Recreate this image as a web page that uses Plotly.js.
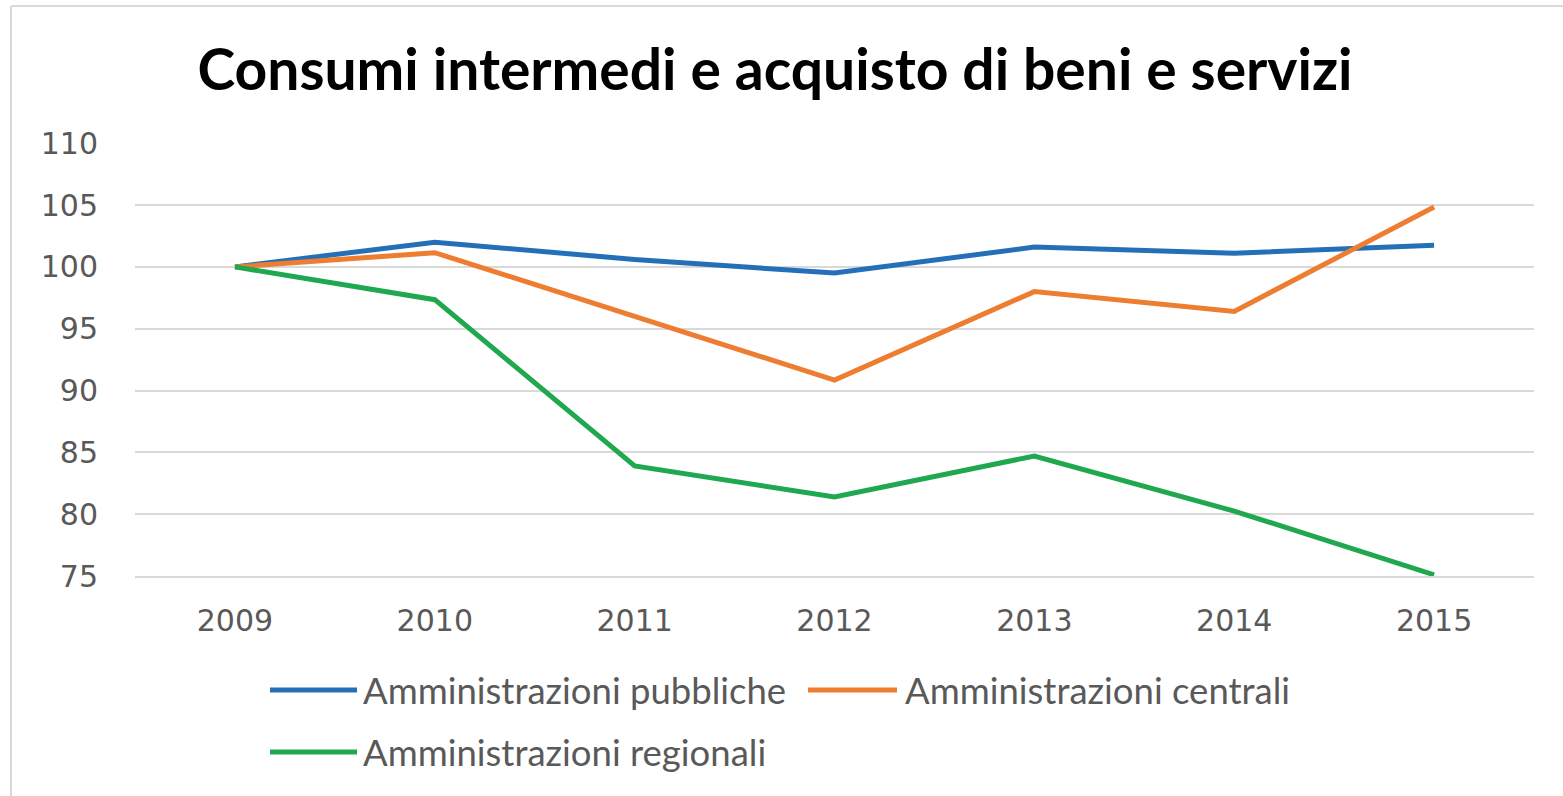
<!DOCTYPE html>
<html>
<head>
<meta charset="utf-8">
<script src="https://cdn.plot.ly/plotly-3.0.1.min.js"></script>
<style>
  html, body { margin: 0; padding: 0; background: #ffffff; }
  #chart { width: 1563px; height: 796px; }
</style>
</head>
<body>
<div id="chart"></div>
<script>
// ---- Data ----
const years = ['2009', '2010', '2011', '2012', '2013', '2014', '2015'];
const seriesNames = ['Amministrazioni pubbliche', 'Amministrazioni centrali', 'Amministrazioni regionali'];
const pubbliche = [100, 102.0, 100.6, 99.5, 101.6, 101.1, 101.75];
const centrali  = [100, 101.15, 96.0, 90.85, 98.0, 96.4, 104.85];
const regionali = [100, 97.35, 83.9, 81.4, 84.7, 80.25, 75.1];
const yTicks = [75, 80, 85, 90, 95, 100, 105, 110];
const chartTitle = 'Consumi intermedi e acquisto di beni e servizi';

// ---- Styles ----
const colors = ['#2470B8', '#ED7D31', '#1FA84F'];
const seriesValues = [pubbliche, centrali, regionali];
const W = 1563, H = 796;
const M = { l: 135, r: 29, t: 143, b: 220 };
const plotW = W - M.l - M.r, plotH = H - M.t - M.b;
const px2x = p => (p - M.l) / plotW;
const px2y = p => (H - M.b - p) / plotH;

const traces = seriesValues.map((vals, i) => ({
  type: 'scatter',
  mode: 'lines',
  x: years,
  y: vals,
  name: seriesNames[i],
  line: { color: colors[i], width: 5 },
  showlegend: false,
  hoverinfo: 'x+y+name'
}));

// custom legend (Excel style, long line samples)
const legendPos = [
  { lx0: 270, lx1: 357, tx: 361, ty: 690 },
  { lx0: 808, lx1: 897, tx: 903, ty: 690 },
  { lx0: 270, lx1: 357, tx: 361, ty: 752 }
];
const shapes = [];
const annotations = [];
seriesNames.forEach((nm, i) => {
  const p = legendPos[i];
  shapes.push({
    type: 'line', xref: 'paper', yref: 'paper',
    x0: px2x(p.lx0), x1: px2x(p.lx1), y0: px2y(p.ty), y1: px2y(p.ty),
    line: { color: colors[i], width: 5 }
  });
  annotations.push({
    xref: 'paper', yref: 'paper', x: px2x(p.tx), y: px2y(p.ty),
    xanchor: 'left', yanchor: 'middle', showarrow: false,
    text: nm, font: { family: 'Lato, sans-serif', size: 36.5, color: '#595959' }
  });
});
// chart area border (top and left visible)
shapes.push({ type: 'line', xref: 'paper', yref: 'paper', x0: px2x(11), x1: px2x(1563), y0: px2y(6), y1: px2y(6), line: { color: '#d9d9d9', width: 2 } });
shapes.push({ type: 'line', xref: 'paper', yref: 'paper', x0: px2x(11), x1: px2x(11), y0: px2y(6), y1: px2y(796), line: { color: '#d9d9d9', width: 2 } });

const layout = {
  width: W, height: H,
  margin: M,
  paper_bgcolor: '#ffffff',
  plot_bgcolor: '#ffffff',
  title: {
    text: chartTitle,
    font: { family: 'Lato, sans-serif', size: 57, color: '#000000', weight: 700 },
    xref: 'container', yref: 'container',
    x: 775 / W, xanchor: 'center',
    y: 1 - 70 / H, yanchor: 'middle'
  },
  xaxis: {
    type: 'category',
    range: [-0.5, 6.5],
    tickvals: years,
    ticktext: years,
    showgrid: false,
    zeroline: false,
    showline: true,
    linecolor: '#d9d9d9',
    linewidth: 1.5,
    ticks: '',
    ticklabelstandoff: 17,
    tickfont: { family: 'DejaVu Sans, sans-serif', size: 30, color: '#595959' }
  },
  yaxis: {
    range: [75, 110.02],
    tickvals: yTicks,
    ticktext: yTicks.map(String),
    showgrid: true,
    gridcolor: '#d9d9d9',
    gridwidth: 1.5,
    zeroline: false,
    showline: false,
    ticks: '',
    ticklabelstandoff: 36,
    tickfont: { family: 'DejaVu Sans, sans-serif', size: 30, color: '#595959' }
  },
  shapes: shapes,
  annotations: annotations,
  showlegend: false
};

Plotly.newPlot('chart', traces, layout, { displayModeBar: false, staticPlot: false });
</script>
</body>
</html>
